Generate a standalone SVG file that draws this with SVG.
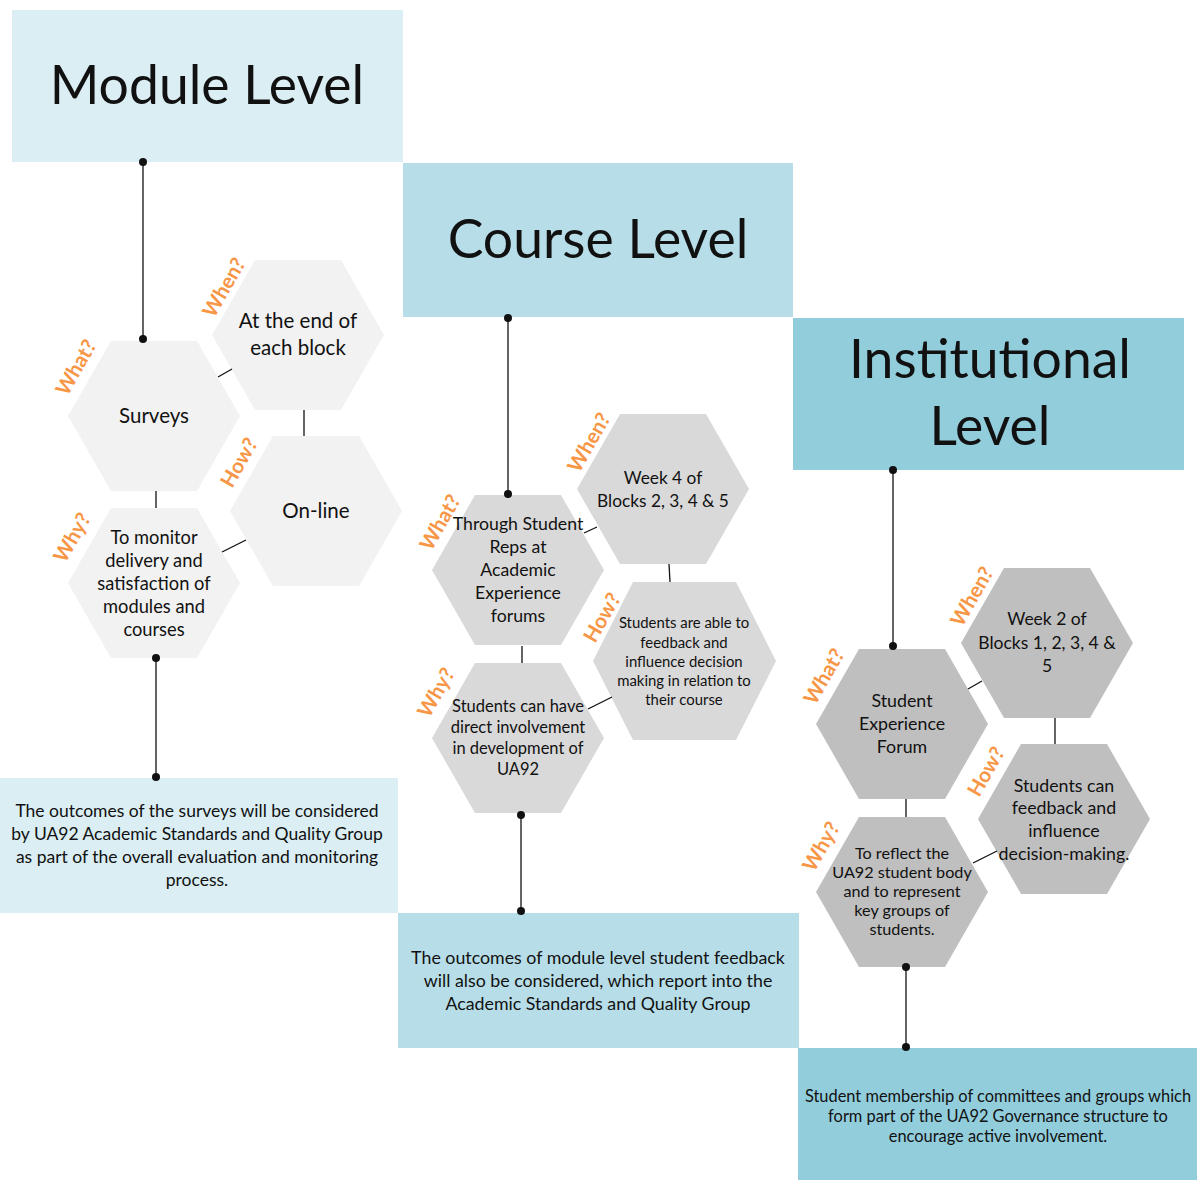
<svg xmlns="http://www.w3.org/2000/svg" width="1197" height="1180" viewBox="0 0 1197 1180">
<style>
.t{font-family:Lato,"Liberation Sans",sans-serif;fill:#111;text-anchor:middle}
.h{font-size:53.5px}
.q{font-family:Lato,"Liberation Sans",sans-serif;font-size:20.5px;font-weight:bold;fill:#F79646;text-anchor:middle}
.c{stroke:#111;stroke-width:1.3;fill:none}
.m1{fill:#DAEEF3}.m2{fill:#B7DEE8}.m3{fill:#92CDDC}
.x1{fill:#F2F2F2}.x2{fill:#D9D9D9}.x3{fill:#BFBFBF}
</style>
<rect width="1197" height="1180" fill="#fff"/>
<g id="module-header"><rect class="m1" x="12" y="10" width="391" height="152"/><text class="t h" x="207" y="104">Module Level</text></g>
<g id="course-header"><rect class="m2" x="403" y="163" width="390" height="154"/><text class="t h" x="598" y="258">Course Level</text></g>
<g id="inst-header"><rect class="m3" x="793" y="318" width="391" height="152"/><text class="t h" x="990" y="378">Institutional</text><text class="t h" x="990" y="445">Level</text></g>

<g id="module-outcome" font-size="17.5"><rect class="m1" x="0" y="778" width="398" height="135"/>
<text class="t" x="197" y="817">The outcomes of the surveys will be considered</text>
<text class="t" x="197" y="840">by UA92 Academic Standards and Quality Group</text>
<text class="t" x="197" y="863">as part of the overall evaluation and monitoring</text>
<text class="t" x="197" y="886">process.</text></g>
<g id="course-outcome" font-size="17.8"><rect class="m2" x="398" y="913" width="401" height="135"/>
<text class="t" x="598" y="964">The outcomes of module level student feedback</text>
<text class="t" x="598" y="987">will also be considered, which report into the</text>
<text class="t" x="598" y="1010">Academic Standards and Quality Group</text></g>
<g id="inst-outcome" font-size="16.4"><rect class="m3" x="798" y="1048" width="399" height="132"/>
<text class="t" x="998" y="1102">Student membership of committees and groups which</text>
<text class="t" x="998" y="1122">form part of the UA92 Governance structure to</text>
<text class="t" x="998" y="1142">encourage active involvement.</text></g>

<g id="surveys" font-size="20.5"><polygon class="x1" points="68,416 111,341 197,341 240,416 197,491 111,491"/><text class="t" x="154" y="423">Surveys</text></g>
<g id="at-end" font-size="20.5"><polygon class="x1" points="212,335 255,260 341,260 384,335 341,410 255,410"/><text class="t" x="298" y="328">At the end of</text><text class="t" x="298" y="355">each block</text></g>
<g id="online" font-size="20.5"><polygon class="x1" points="230,511 273,436 359,436 402,511 359,586 273,586"/><text class="t" x="316" y="518">On-line</text></g>
<g id="to-monitor" font-size="18.3"><polygon class="x1" points="68,583 111,508 197,508 240,583 197,658 111,658"/>
<text class="t" x="154" y="544">To monitor</text><text class="t" x="154" y="567">delivery and</text><text class="t" x="154" y="590">satisfaction of</text><text class="t" x="154" y="613">modules and</text><text class="t" x="154" y="636">courses</text></g>

<g id="through" font-size="17.7"><polygon class="x2" points="432,570 475,495 561,495 604,570 561,645 475,645"/>
<text class="t" x="518" y="530">Through Student</text><text class="t" x="518" y="553">Reps at</text><text class="t" x="518" y="576">Academic</text><text class="t" x="518" y="599">Experience</text><text class="t" x="518" y="622">forums</text></g>
<g id="week4" font-size="17.3"><polygon class="x2" points="577,489 620,414 706,414 749,489 706,564 620,564"/>
<text class="t" x="663" y="484">Week 4 of</text><text class="t" x="663" y="507">Blocks 2, 3, 4 &amp; 5</text></g>
<g id="able" font-size="14.9"><polygon class="x2" points="593,661 633,582 736,582 776,661 736,740 633,740"/>
<text class="t" x="684" y="628">Students are able to</text><text class="t" x="684" y="648">feedback and</text><text class="t" x="684" y="667">influence decision</text><text class="t" x="684" y="686">making in relation to</text><text class="t" x="684" y="705">their course</text></g>
<g id="can-have" font-size="16.5"><polygon class="x2" points="432,738 475,663 561,663 604,738 561,813 475,813"/>
<text class="t" x="518" y="712">Students can have</text><text class="t" x="518" y="733">direct involvement</text><text class="t" x="518" y="754">in development of</text><text class="t" x="518" y="775">UA92</text></g>

<g id="sef" font-size="17.8"><polygon class="x3" points="816,724 859,649 945,649 988,724 945,799 859,799"/>
<text class="t" x="902" y="707">Student</text><text class="t" x="902" y="730">Experience</text><text class="t" x="902" y="753">Forum</text></g>
<g id="week2" font-size="17.5"><polygon class="x3" points="961,643 1004,568 1090,568 1133,643 1090,718 1004,718"/>
<text class="t" x="1047" y="625">Week 2 of</text><text class="t" x="1047" y="649">Blocks 1, 2, 3, 4 &amp;</text><text class="t" x="1047" y="672">5</text></g>
<g id="can-feedback" font-size="17.8"><polygon class="x3" points="978,819 1021,744 1107,744 1150,819 1107,894 1021,894"/>
<text class="t" x="1064" y="792">Students can</text><text class="t" x="1064" y="814">feedback and</text><text class="t" x="1064" y="837">influence</text><text class="t" x="1064" y="860">decision-making.</text></g>
<g id="reflect" font-size="16.2"><polygon class="x3" points="816,892 859,817 945,817 988,892 945,967 859,967"/>
<text class="t" x="902" y="859">To reflect the</text><text class="t" x="902" y="878">UA92 student body</text><text class="t" x="902" y="897">and to represent</text><text class="t" x="902" y="916">key groups of</text><text class="t" x="902" y="935">students.</text></g>

<g id="labels">
<text class="q" transform="translate(77,368) rotate(-60)" dy="6">What?</text>
<text class="q" transform="translate(225,288) rotate(-60)" dy="6">When?</text>
<text class="q" transform="translate(240,463) rotate(-60)" dy="6">How?</text>
<text class="q" transform="translate(73,538) rotate(-60)" dy="6">Why?</text>
<text class="q" transform="translate(441,523) rotate(-60)" dy="6">What?</text>
<text class="q" transform="translate(590,443) rotate(-60)" dy="6">When?</text>
<text class="q" transform="translate(603,618) rotate(-60)" dy="6">How?</text>
<text class="q" transform="translate(437,693) rotate(-60)" dy="6">Why?</text>
<text class="q" transform="translate(825,677) rotate(-60)" dy="6">What?</text>
<text class="q" transform="translate(973,597) rotate(-60)" dy="6">When?</text>
<text class="q" transform="translate(987,772) rotate(-60)" dy="6">How?</text>
<text class="q" transform="translate(822,847) rotate(-60)" dy="6">Why?</text>
</g>

<g id="connectors">
<line class="c" x1="143" y1="162" x2="143" y2="339"/>
<line class="c" x1="218" y1="377" x2="232" y2="369"/>
<line class="c" x1="304" y1="410" x2="304" y2="436"/>
<line class="c" x1="156" y1="491" x2="156" y2="508"/>
<line class="c" x1="222" y1="552" x2="246" y2="540"/>
<line class="c" x1="156" y1="658" x2="156" y2="777"/>
<line class="c" x1="508" y1="318" x2="508" y2="494"/>
<line class="c" x1="584" y1="533" x2="597" y2="527"/>
<line class="c" x1="669" y1="564" x2="670" y2="582"/>
<line class="c" x1="522" y1="646" x2="522" y2="663"/>
<line class="c" x1="588" y1="709" x2="612" y2="697"/>
<line class="c" x1="521" y1="815" x2="521" y2="911"/>
<line class="c" x1="893" y1="470" x2="893" y2="646"/>
<line class="c" x1="968" y1="689" x2="982" y2="681"/>
<line class="c" x1="1055" y1="718" x2="1055" y2="744"/>
<line class="c" x1="906" y1="799" x2="906" y2="817"/>
<line class="c" x1="973" y1="863" x2="997" y2="851"/>
<line class="c" x1="906" y1="967" x2="906" y2="1047"/>
<g fill="#111">
<circle cx="143" cy="162" r="4"/><circle cx="143" cy="339" r="4"/>
<circle cx="156" cy="658" r="4"/><circle cx="156" cy="777" r="4"/>
<circle cx="508" cy="318" r="4"/><circle cx="508" cy="494" r="4"/>
<circle cx="521" cy="815" r="4"/><circle cx="521" cy="911" r="4"/>
<circle cx="893" cy="470" r="4"/><circle cx="893" cy="646" r="4"/>
<circle cx="906" cy="967" r="4"/><circle cx="906" cy="1047" r="4"/>
</g>
</g>
</svg>
